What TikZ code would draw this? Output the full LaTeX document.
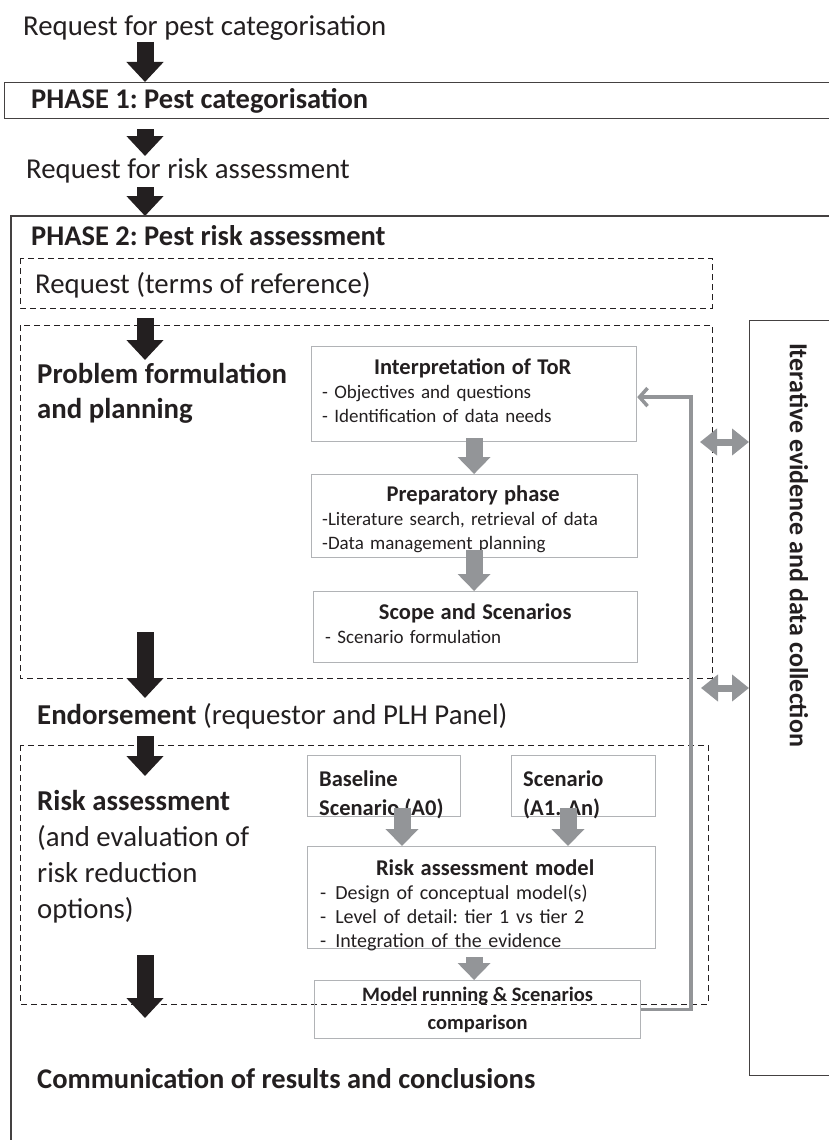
\documentclass[tikz,border=0pt]{standalone}
\usepackage{fontspec}
\setmainfont{Carlito}
\usetikzlibrary{arrows.meta}
\definecolor{ink}{HTML}{231F20}
\definecolor{flow}{HTML}{939598}
\definecolor{frame}{HTML}{B1B3B6}
\newcommand{\steptitle}[1]{\makebox[\linewidth]{\fontsize{22.5}{24}\selectfont\bfseries #1}}
\frenchspacing

\begin{document}
\begin{tikzpicture}[x=1pt, y=-1pt, text=ink,
  font=\fontsize{28.8}{34}\selectfont,
  lefttext/.style={anchor=base west, inner sep=0pt, align=left},
  small/.style={font=\fontsize{19}{24}\selectfont},
  bigarrow/.style={draw=ink, line width=17pt, -{Triangle[width=36pt, length=20pt]}},
  greyarrow/.style={draw=flow, line width=17pt, -{Triangle[width=32pt, length=17pt]}},
  twoway/.style={draw=flow, line width=7pt, {Triangle[width=26pt, length=17pt]}-{Triangle[width=26pt, length=17pt]}},
  loopback/.style={draw=flow, line width=3.5pt, -{Straight Barb[length=8pt, width=18pt]}},
  stepbox/.style={draw=frame, line width=1.2pt, anchor=north west, inner sep=0pt},
  band/.style={draw=ink!85, line width=1.2pt},
  zone/.style={draw=ink, line width=0.9pt, dash pattern=on 6pt off 4pt}]
  \useasboundingbox (0,0) rectangle (829,1140);
  \coordinate (spine) at (145,0);

  % top of the flow
  \node[lefttext] (req1) at (23,36) {Request for pest categorisation};
  \node[band, anchor=north west, minimum width=836pt, minimum height=36pt, inner sep=0pt] (phase1) at (4,82) {};
  \node[lefttext, font=\fontsize{28.5}{34}\selectfont\bfseries] (phase1txt) at (31,108) {PHASE 1: Pest categorisation};
  \node[lefttext] (req2) at (26,178) {Request for risk assessment};

  \draw[bigarrow] (spine |- 0,42) -- (phase1.north -| spine);
  \draw[bigarrow] (phase1.south -| spine) ++(0,10) -- (spine |- 0,156);
  \draw[bigarrow] (spine |- 0,187) -- (spine |- 0,216);

  % phase 2 frame
  \draw[band] (11,216) rectangle (840,1150);
  \node[lefttext, font=\fontsize{28.5}{34}\selectfont\bfseries] (phase2) at (31,245) {PHASE 2: Pest risk assessment};

  \draw[zone] (20,258) rectangle (712,308);
  \node[lefttext] (tor) at (35,293) {Request (terms of reference)};

  % problem formulation
  \draw[zone] (20,325) rectangle (712,678);
  \node[lefttext, font=\fontsize{28.8}{35}\selectfont\bfseries] (problem) at (37,418)
        {Problem formulation\\and planning};
  \draw[bigarrow] (spine |- 0,318) -- (spine |- 0,360);

  \node[stepbox, minimum width=325pt, minimum height=95pt] (interp) at (311,346) {};
  \node[small, anchor=north west, align=left, text width=301pt, inner sep=0pt] (interptxt)
        at ([xshift=11pt, yshift=-12pt]interp.north west)
        {\steptitle{Interpretation of ToR}\\
         - Objectives and questions\\- Identification of data needs};
  \node[stepbox, minimum width=326pt, minimum height=83pt] (prep) at (311,474) {};
  \node[small, anchor=north west, align=left, text width=302pt, inner sep=0pt] (preptxt)
        at ([xshift=11pt, yshift=-12pt]prep.north west)
        {\steptitle{Preparatory phase}\\
         -Literature search, retrieval of data\\-Data management planning};
  \node[stepbox, minimum width=324pt, minimum height=71pt] (scope) at (313,591) {};
  \node[small, anchor=north west, align=left, text width=300pt, inner sep=0pt] (scopetxt)
        at ([xshift=12pt, yshift=-13pt]scope.north west)
        {\steptitle{Scope and Scenarios}\\
         - Scenario formulation};

  \draw[greyarrow] ([yshift=4pt]interp.south) -- (prep.north -| interp.south);
  \draw[greyarrow] ([yshift=8pt]prep.south -| interp.south) -- (scope.north -| interp.south);

  % endorsement
  \draw[bigarrow] (spine |- 0,632) -- (spine |- 0,698);
  \node[lefttext] (endorse) at (37,724) {\textbf{Endorsement} (requestor and PLH Panel)};
  \draw[bigarrow] (spine |- 0,736) -- (spine |- 0,776);

  % risk assessment
  \draw[zone] (20,745) rectangle (708,1004);
  \node[lefttext, font=\fontsize{28.8}{36}\selectfont] (riskass) at (37,918)
        {\textbf{Risk assessment}\\(and evaluation of\\risk reduction\\options)};

  \node[stepbox, minimum width=153pt, minimum height=61pt] (baseline) at (307,755) {};
  \node[lefttext, font=\fontsize{22.5}{29}\selectfont\bfseries] (baselinetxt) at (319,815) {Baseline\\Scenario (A0)};
  \node[stepbox, minimum width=144pt, minimum height=61pt] (alt) at (511,755) {};
  \node[lefttext, font=\fontsize{22.5}{29}\selectfont\bfseries] (alttxt) at (523,815) {Scenario\\(A1..An)};

  \node[stepbox, minimum width=348pt, minimum height=102pt] (model) at (307,846) {};
  \node[anchor=north west, align=left, text width=330pt, inner sep=0pt,
        font=\fontsize{20}{24}\selectfont] (modeltxt)
        at ([xshift=13pt, yshift=-14pt]model.north west)
        {\steptitle{Risk assessment model}\\
         -\hspace{9pt}Design of conceptual model(s)\\
         -\hspace{9pt}Level of detail: tier 1 vs tier 2\\
         -\hspace{9pt}Integration of the evidence};
  \node[stepbox, minimum width=326pt, minimum height=58pt, align=center,
        font=\fontsize{20.5}{28}\selectfont\bfseries] (run) at (314,980)
        {Model running \& Scenarios\\comparison};

  \draw[greyarrow] (baseline.south -| 402,0) ++(0,-9) -- (model.north -| 402,0);
  \draw[greyarrow] (alt.south -| 568,0) ++(0,-9) -- (model.north -| 568,0);
  \draw[greyarrow] ([yshift=-8pt]model.south -| interp.south) -- (run.north -| interp.south);

  \draw[loopback] (run.east) -- ++(50,0) |- ([yshift=-3pt]interp.east);

  \draw[bigarrow] (spine |- 0,955) -- (spine |- 0,1018);
  \node[lefttext, font=\fontsize{28.5}{34}\selectfont\bfseries] (comm) at (37,1088)
        {Communication of results and conclusions};

  % evidence collection
  \node[band, anchor=north west, minimum width=100pt, minimum height=755pt, inner sep=0pt] (evidence) at (749,320) {};
  \node[rotate=-90, font=\fontsize{26}{30}\selectfont\bfseries, inner sep=0pt] (evidencetxt)
        at (799,545) {Iterative evidence and data collection};

  \draw[twoway] (700,442) -- (evidence.west |- 0,442);
  \draw[twoway] (701,688) -- (evidence.west |- 0,688);
\end{tikzpicture}
\end{document}
